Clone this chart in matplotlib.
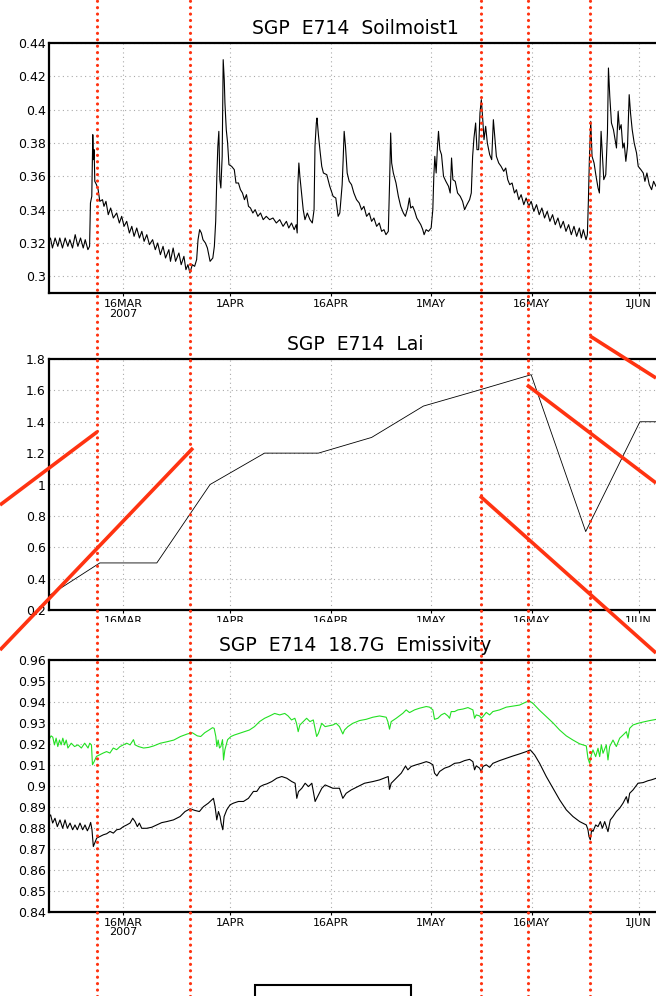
import numpy as np
import matplotlib
matplotlib.use("Agg")
import matplotlib.pyplot as plt
import matplotlib.transforms as mtransforms
from matplotlib.lines import Line2D
from matplotlib.patches import Rectangle

# time axis: days since 1 MAR 2007 (00Z)
tick_days = [15, 31, 46, 61, 76, 92]
tick_top = ["16MAR\n2007", "1APR", "16APR", "1MAY", "16MAY", "1JUN"]
tick_mid = ["16MAR", "1APR", "16APR", "1MAY", "16MAY", "1JUN"]

# E714 surface soil moisture
sm_day = [3.84, 4.1, 4.4, 4.8, 5.2, 5.5, 5.9, 6.3, 6.7, 7.0, 7.4, 7.8, 8.2, 8.6, 9.0, 9.3, 9.7, 9.95,
          10.08, 10.28, 10.43, 10.53, 10.63, 10.73, 10.98, 11.23, 11.48, 11.88, 12.1, 12.4, 12.74,
          13.1, 13.5, 14.0, 14.4, 14.75, 15.1, 15.5, 15.9, 16.26, 16.6, 17.0, 17.4, 17.76, 18.1,
          18.5, 18.9, 19.37, 19.77, 20.13, 20.53, 20.93, 21.3, 21.8, 22.04, 22.44, 22.8, 23.3,
          23.64, 24.05, 24.35, 24.65, 24.95, 25.3, 25.65, 25.95, 26.16, 26.4, 26.66, 26.9, 27.26,
          27.56, 27.96, 28.37, 28.6, 28.8, 28.97, 29.12, 29.27, 29.42, 29.57, 29.77, 29.92, 30.08,
          30.18, 30.38, 30.58, 30.78, 31.18, 31.58, 31.83, 32.2, 32.5, 32.8, 33.1, 33.4, 33.7,
          34.0, 34.35, 34.7, 35.1, 35.5, 35.9, 36.36, 36.86, 37.36, 37.86, 38.37, 38.87, 39.37,
          39.72, 40.13, 40.53, 40.83, 40.98, 41.08, 41.23, 41.38, 41.63, 41.88, 42.14, 42.49,
          42.89, 43.24, 43.5, 43.64, 43.84, 43.94, 44.15, 44.4, 44.65, 44.9, 45.4,
          45.85, 46.35, 46.75, 47.1, 47.35, 47.7, 47.85, 48.0, 48.2, 48.45, 48.75, 49.1, 49.45,
          49.85, 50.25, 50.6, 50.95, 51.35, 51.75, 52.1, 52.45, 52.85, 53.25, 53.6, 53.95, 54.25,
          54.6, 54.8, 54.95, 55.1, 55.35, 55.75, 56.1, 56.45, 56.85, 57.15, 57.5, 57.75, 57.95,
          58.25, 58.55, 58.85, 59.15, 59.45, 59.75, 59.95, 60.25, 60.6, 61.0, 61.25, 61.4, 61.55,
          61.75, 61.95, 62.1, 62.3, 62.55, 62.85, 63.2, 63.6, 63.85, 64.05, 64.25, 64.6, 64.95,
          65.35, 65.7, 66.0, 66.35, 66.75, 67.0, 67.2, 67.4, 67.65, 67.85, 68.1, 68.3, 68.5, 68.7,
          68.9, 69.15, 69.4, 69.75, 70.05, 70.3, 70.5, 70.75, 71.1, 71.45, 71.85, 72.15, 72.45,
          72.75, 73.1, 73.45, 73.75, 74.1, 74.45, 74.85, 75.2, 75.6, 75.95, 76.35, 76.75, 77.15,
          77.55, 77.95, 78.35, 78.75, 79.15, 79.55, 79.95, 80.35, 80.75, 81.15, 81.55, 81.95,
          82.35, 82.75, 83.15, 83.45, 83.75, 84.15, 84.35, 84.5, 84.65, 84.85, 85.05, 85.35,
          85.65, 85.95, 86.15, 86.4, 86.6, 86.8, 87.1, 87.35, 87.5, 87.7, 87.95, 88.25, 88.5,
          88.7, 88.95, 89.15, 89.4, 89.65, 89.85, 90.1, 90.35, 90.6, 90.8, 91.05, 91.35, 91.7,
          91.95, 92.35, 92.7, 92.95, 93.25, 93.6, 93.95, 94.25, 94.6, 95.1, 95.5]
sm_val = [.321, .323, .317, .323, .318, .323, .317, .323, .318, .322, .317, .325, .318, .323, .317, .322, .316, .318,
          .344, .348, .385, .370, .376, .357, .355, .352, .345, .346, .342, .345, .337,
          .341, .335, .338, .332, .336, .330, .333, .326, .330, .324, .329, .323, .327, .321,
          .325, .319, .322, .316, .320, .313, .318, .311, .316, .309, .317, .309, .314,
          .307, .312, .304, .307, .302, .307, .306, .310, .322, .328, .326, .322, .320,
          .317, .309, .311, .318, .333, .360, .378, .387, .358, .353, .372, .430, .418,
          .404, .388, .380, .367, .366, .364, .356, .356, .352, .350, .346, .349, .342,
          .341, .338, .340, .336, .338, .334, .336, .334, .335, .332, .334, .330, .333,
          .329, .332, .328, .331, .326, .355, .368, .360, .350, .340, .334, .338,
          .334, .332, .340, .378, .392, .395, .385, .375, .366, .362, .361,
          .354, .348, .347, .336, .338, .355, .370, .387, .378, .362, .357, .355, .350,
          .346, .344, .340, .342, .336, .338, .333, .335, .330, .332, .327, .328, .325,
          .327, .358, .386, .368, .362, .356, .348, .342, .338, .336, .341, .347, .341,
          .342, .339, .335, .333, .331, .328, .325, .328, .327, .329, .340, .360, .372,
          .362, .378, .387, .376, .373, .360, .357, .354, .350, .371, .358, .357, .350,
          .348, .345, .340, .343, .346, .350, .372, .383, .392, .376, .376, .398, .406, .395,
          .382, .390, .380, .373, .370, .394, .384, .372, .368, .366, .363, .365, .358,
          .355, .356, .350, .352, .346, .349, .343, .347, .342, .345, .339, .343, .337,
          .341, .335, .339, .333, .337, .331, .335, .329, .333, .327, .331, .325,
          .330, .324, .329, .323, .328, .322, .325, .345, .370, .393, .372, .368,
          .360, .353, .350, .387, .372, .358, .361, .386, .425, .408, .392, .388, .382,
          .377, .399, .388, .391, .377, .380, .369, .378, .409, .398, .388, .380, .374,
          .366, .364, .362, .357, .362, .355, .352, .357, .354, .355, .356]

# E714 leaf area index
lai_day = [3.84, 11.48, 20.0, 27.96, 36.1, 44.15, 52.1, 59.85, 68.0, 75.95, 84.1, 92.2, 95.5]
lai_val = [0.29, 0.5, 0.5, 1.0, 1.2, 1.2, 1.3, 1.5, 1.6, 1.7, 0.7, 1.4, 1.4]

# 18.7 GHz emissivity, two retrievals
em_g_day = [3.84, 4.2, 4.45, 4.7, 4.95, 5.2, 5.45, 5.7, 5.95, 6.21, 6.46, 6.71, 7.21, 7.71, 8.22,
            8.72, 9.22, 9.72, 9.97, 10.23, 10.38, 10.63, 10.98, 11.48, 11.98, 12.49, 12.99, 13.49,
            13.99, 14.5, 15.0, 15.5, 16.0, 16.51, 16.76, 17.26, 18.02, 18.77, 19.52, 20.53, 21.53,
            22.54, 23.54, 24.55, 25.3, 26.05, 26.56, 27.16, 27.81, 28.32, 28.57, 28.82, 28.97,
            29.17, 29.37, 29.57, 29.82, 29.97, 30.17, 30.58, 31.08, 31.58, 32.34, 33.09, 33.84,
            34.6, 35.35, 36.11, 36.86, 37.61, 38.37, 39.12, 39.62, 40.13, 40.63, 40.88, 41.13,
            41.38, 41.88, 42.39, 42.89, 43.39, 43.89, 44.15, 44.65, 45.15,
            46.31, 46.81, 47.3, 47.8, 48.05, 48.55, 49.3, 50.3, 51.29, 52.29, 53.29, 54.28,
            54.53, 54.78, 55.03, 55.78, 56.78, 57.27, 57.77, 58.52, 59.27, 60.27, 60.76, 61.26,
            61.51, 62.01, 62.51, 63.01, 63.5, 63.75, 64.0, 64.5, 65.0, 65.75, 66.5, 67.24, 67.49,
            67.74, 68.24, 68.49, 68.74, 69.24, 69.74, 70.23, 71.23, 72.23, 73.23, 74.22, 75.22,
            75.72, 76.22, 77.21, 78.21, 79.21, 80.2, 81.2, 82.2, 83.2, 84.19, 84.44, 84.69, 84.94,
            85.19, 85.59, 85.94, 86.19, 86.44, 86.69, 87.18, 87.43, 87.68, 88.18, 88.68, 89.18,
            89.68, 90.18, 90.42, 90.67, 91.17, 91.92, 92.67, 93.67, 94.66, 95.5]
em_g_val = [.9218, .9238, .9232, .9195, .9227, .9187, .9218, .9195, .9227, .9195, .9218, .918, .9203, .9187, .9195,
            .918, .9203, .918, .9203, .9195, .9100, .9115, .9140, .9148, .9156, .9163, .9156, .9180,
            .9172, .9187, .9195, .9203, .9195, .9220, .9195, .9187, .9180, .9183, .9190, .9203, .9210,
            .9218, .9235, .9247, .9253, .9238, .9235, .9253, .9266, .9277, .9274, .9235, .9187,
            .9218, .9180, .9187, .9220, .9123, .9171, .9220, .9235, .9242, .9250, .9258, .9266,
            .9282, .9306, .9322, .9333, .9345, .9338, .9345, .9333, .9314, .9322, .9298, .9258,
            .9290, .9306, .9322, .9306, .9314, .9235, .9250, .9298, .9282,
            .9290, .9298, .9282, .9247, .9266, .9282, .9298, .9311, .9317, .9327, .9333, .9327,
            .9306, .9270, .9306, .9322, .9346, .9362, .9349, .9362, .9370, .9378, .9375, .9362,
            .9317, .9322, .9338, .9346, .9333, .9322, .9354, .9354, .9362, .9366, .9373, .9362, .9322,
            .9338, .9333, .9322, .9330, .9350, .9338, .9354, .9362, .9375, .9380, .9385, .9400,
            .9404, .9393, .9360, .9330, .9300, .9266, .9238, .9218, .9200, .9190, .9131, .9107, .9147,
            .9171, .9139, .9179, .9139, .9195, .9155, .9195, .9123, .9187, .9218, .9187, .9227,
            .9242, .9258, .9227, .9274, .9290, .9298, .9304, .9311, .9317, .9320]

em_k_day = [3.93, 4.13, 4.43, 4.78, 5.13, 5.53, 5.93, 6.28, 6.63, 7.03, 7.42, 7.77, 8.12, 8.52, 8.92,
            9.27, 9.62, 9.92, 10.11, 10.31, 10.51, 10.71, 11.01, 11.51, 12.01, 12.51, 13.0, 13.5,
            14.0, 14.5, 15.0, 15.5, 16.0, 16.4, 16.75, 17.09, 17.39, 17.74, 18.49, 19.24, 19.99,
            20.73, 21.48, 22.48, 23.47, 24.22, 24.97, 25.72, 26.36, 26.96, 27.7, 28.46, 28.71,
            28.96, 29.21, 29.46, 29.61, 29.86, 30.06, 30.45, 30.95, 31.45, 32.2, 32.95, 33.69,
            34.44, 34.94, 35.44, 35.94, 36.44, 37.18, 37.93, 38.68, 39.42, 40.17, 40.67, 40.92,
            41.17, 41.67, 42.17, 42.67, 43.17, 43.66, 44.16, 44.66, 45.16,
            46.31, 46.81, 47.3, 47.8, 48.3, 49.05, 50.05, 51.04, 52.29, 53.29, 54.28, 54.58,
            54.78, 55.03, 55.78, 56.53, 57.17, 57.52, 58.02, 58.77, 59.52, 60.27, 60.76, 61.26,
            61.51, 61.86, 62.26, 63.01, 63.75, 64.5, 65.25, 66.0, 66.75, 67.24, 67.49, 67.74,
            68.24, 68.49, 68.74, 69.24, 69.74, 70.23, 71.23, 72.23, 73.23, 74.22, 75.22, 75.82,
            76.47, 77.21, 78.21, 79.21, 80.2, 81.2, 82.2, 83.2, 84.19, 84.44, 84.59, 84.79, 84.99,
            85.19, 85.59, 85.94, 86.29, 86.59, 86.94, 87.43, 87.78, 88.18, 88.68, 89.18, 89.68,
            90.18, 90.42, 90.67, 91.17, 91.92, 92.67, 93.41, 93.91, 94.66, 95.5]
em_k_val = [.8853, .8861, .8822, .8845, .8805, .8837, .8797, .8837, .8797, .8822, .8790, .8813, .8790, .8822, .8790,
            .8813, .8785, .8806, .8825, .8790, .8710, .8726, .8750, .8758, .8766, .8771, .8782, .8774,
            .8790, .8793, .8805, .8813, .8822, .8845, .8829, .8805, .8822, .8797, .8797, .8802, .8813,
            .8824, .8829, .8837, .8853, .8877, .8890, .8882, .8877, .8900, .8917, .8940, .8900,
            .8837, .8877, .8853, .8822, .8790, .8853, .8885, .8909, .8917, .8925, .8925, .8940,
            .8973, .8973, .8996, .9004, .9009, .9020, .9036, .9044, .9036, .9020, .9012, .8940,
            .8972, .8988, .9012, .8996, .9012, .8925, .8957, .8988, .9004,
            .8988, .8988, .8988, .8940, .8964, .8980, .8996, .9012, .9020, .9028, .9040, .9044,
            .8983, .9012, .9036, .9060, .9094, .9076, .9092, .9100, .9107, .9115, .9110, .9100,
            .9060, .9047, .9068, .9084, .9092, .9107, .9110, .9120, .9126, .9115, .9076, .9095,
            .9084, .9067, .9092, .9100, .9088, .9107, .9120, .9131, .9142, .9152, .9163, .9171,
            .9147, .9107, .9044, .8988, .8933, .8885, .8853, .8829, .8813, .8790, .8758, .8742, .8790,
            .8782, .8813, .8805, .8829, .8797, .8829, .8781, .8837, .8853, .8877, .8893, .8917,
            .8948, .8917, .8964, .8980, .9012, .9015, .9024, .9028, .9036, .9040]

# marked overpass days (dotted red) and hand-drawn red strokes in pixel space
event_days = [11.02, 24.97, 68.38, 75.51, 84.74]
strokes = [((0, 505), (97, 432)), ((0, 650), (193, 448)), ((480, 496), (656, 653)),
           ((527, 385), (656, 483)), ((590, 336), (656, 378))]

W, H = 656, 996
fig = plt.figure(figsize=(W / 100, H / 100), dpi=100)
plt.rcParams['font.family'] = ['DejaVu Sans']

left, width = 49.3 / W, 612 / W
panels = [(43, 293), (359, 610), (660, 911.5)]
axes = [fig.add_axes([left, 1 - b / H, width, (b - t) / H]) for t, b in panels]


def fmt(v):
    return ('%.2f' % v).rstrip('0').rstrip('.')


def style(ax, lo, hi, step, title, xlabels):
    ax.set_xlim(3.93, 95.4)
    ax.set_ylim(lo, hi)
    yt = np.arange(lo, hi + step / 2, step)
    if lo == 0.29:
        yt = np.arange(0.30, hi + step / 2, step)
    ax.set_yticks(yt)
    ax.set_yticklabels([fmt(v) for v in yt], fontsize=9)
    ax.set_xticks(tick_days)
    ax.set_xticklabels(xlabels, fontsize=8, linespacing=0.95)
    ax.tick_params(axis='y', length=0, pad=2.5)
    ax.tick_params(axis='x', length=2.5, width=0.8, pad=2)
    ax.grid(True, color='#aaaaaa', linestyle=(0, (1, 3)), linewidth=0.8)
    for side in ['left', 'bottom', 'top']:
        ax.spines[side].set_linewidth(1.6)
    ax.spines['right'].set_visible(False)
    ax.set_title(title, fontsize=13.5, pad=6.5)


axes[0].plot(sm_day, sm_val, color='black', lw=0.8)
style(axes[0], 0.29, 0.44, 0.02, 'SGP  E714  Soilmoist1', tick_top)

axes[1].plot(lai_day, lai_val, color='black', lw=0.6)
style(axes[1], 0.2, 1.8, 0.2, 'SGP  E714  Lai', tick_mid)

axes[2].plot(em_g_day, em_g_val, color='#22e022', lw=0.8)
axes[2].plot(em_k_day, em_k_val, color='black', lw=0.8)
style(axes[2], 0.84, 0.96, 0.01, 'SGP  E714  18.7G  Emissivity', tick_top)

# lower half of the Lai date labels is covered by the next panel
fig.add_artist(Rectangle((0, 1 - 632 / H), 1, 10.5 / H, transform=fig.transFigure,
                         facecolor='white', edgecolor='none', zorder=1))

red = '#ff3311'
trans = mtransforms.blended_transform_factory(axes[2].transData, fig.transFigure)
for d in event_days:
    fig.add_artist(Line2D([d, d], [0, 1], transform=trans, color=red, lw=2.3,
                          linestyle=(0, (0.01, 2.0)), dash_capstyle='round', zorder=3))

for (x0, y0), (x1, y1) in strokes:
    fig.add_artist(Line2D([x0 / W, x1 / W], [1 - y0 / H, 1 - y1 / H], transform=fig.transFigure,
                          color=red, lw=2.6, solid_capstyle='butt', zorder=3))

# box at the foot of the page
fig.add_artist(Rectangle((254.5 / W, -0.01), 157 / W, 0.01 + 11.5 / H, transform=fig.transFigure,
                         facecolor='none', edgecolor='black', lw=1.5, zorder=3))

fig.savefig('out.png', dpi=100)
